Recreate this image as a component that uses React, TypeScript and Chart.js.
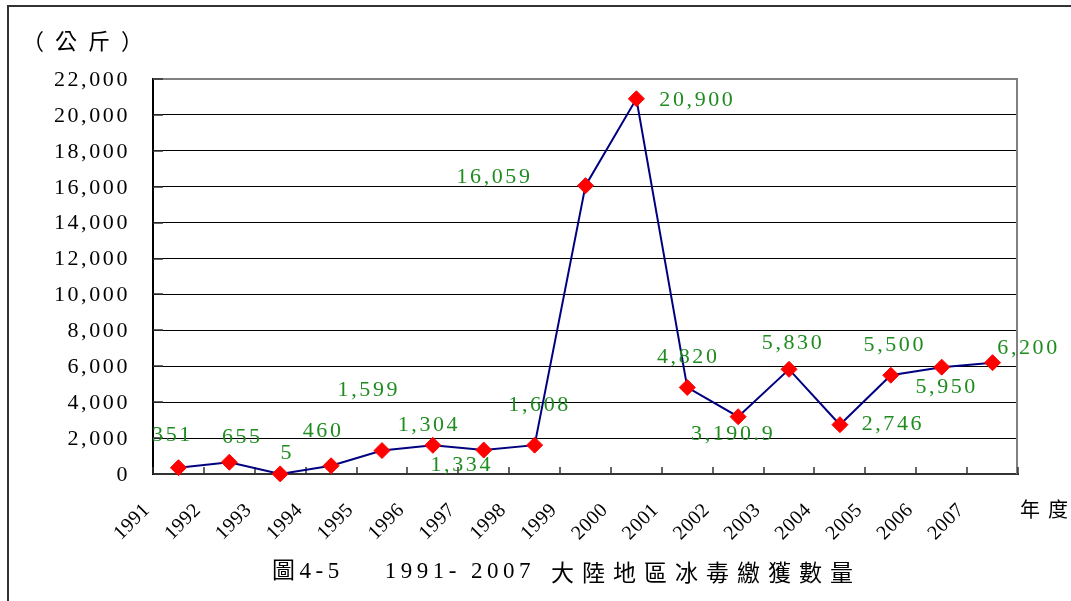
import React, { useEffect, useRef } from "react";
import { Chart, registerables } from "chart.js";

Chart.register(...registerables);

// ---- data ----
const years = [
  "1991", "1992", "1993", "1994", "1995", "1996", "1997", "1998", "1999",
  "2000", "2001", "2002", "2003", "2004", "2005", "2006", "2007",
];
const seizuresKg = [
  351, 655, 5, 460, 1304, 1599, 1334, 1608, 16059,
  20900, 4820, 3190.9, 5830, 2746, 5500, 5950, 6200,
];
const yMin = 0;
const yMax = 22000;
const yStep = 2000;
const yAxisTitle = "（公斤）";
const xAxisTitle = "年度";
const titleLead = "圖4-5    1991- 2007";
const titleMain = "大陸地區冰毒繳獲數量";

// ---- style ----
const W = 1071;
const H = 601;
const SERIF = "'Liberation Serif', 'Noto Sans CJK TC', serif";
const CJK = "'Noto Sans CJK TC', 'Liberation Serif', sans-serif";
const GREEN = "#1f8c1f";
// pixel offsets of each data label centre from its point
const labelOffsets: [number, number][] = [
  [-6, -32], [13, -25], [7, -21], [-8, -35], [47, -25], [-64, -55],
  [-22, 15], [5, -40], [-91, -8], [61, 1], [1, -30], [-5, 18],
  [4, -26], [53, 0], [4, -30], [5, 20], [36, -14],
];

const fmt = (v: number) => v.toLocaleString("en-US", { maximumFractionDigits: 1 });

const overlay = {
  id: "overlay",
  beforeDatasetsDraw(chart: any) {
    const { ctx, chartArea: a, scales } = chart;
    ctx.save();
    // plot area top/right border
    ctx.strokeStyle = "#808080";
    ctx.lineWidth = 2;
    ctx.beginPath();
    ctx.moveTo(a.left, a.top);
    ctx.lineTo(a.right - 1, a.top);
    ctx.lineTo(a.right - 1, a.bottom);
    ctx.stroke();
    // inward x tick marks at category boundaries
    const xs = scales.x;
    const half = (xs.getPixelForValue(1) - xs.getPixelForValue(0)) / 2;
    ctx.strokeStyle = "#333";
    ctx.lineWidth = 1.5;
    ctx.beginPath();
    for (let i = 0; i <= years.length; i++) {
      const x = Math.round(xs.getPixelForValue(i) - half);
      ctx.moveTo(x, a.bottom);
      ctx.lineTo(x, a.bottom - 7);
    }
    ctx.stroke();
    // inward y tick marks
    const ys = scales.y;
    ctx.beginPath();
    for (let v = yMin; v <= yMax; v += yStep) {
      const y = Math.round(ys.getPixelForValue(v));
      ctx.moveTo(a.left, y);
      ctx.lineTo(a.left + 10, y);
    }
    ctx.stroke();
    ctx.restore();
  },
  afterDraw(chart: any) {
    const { ctx, chartArea: a, scales } = chart;
    const xs = scales.x;
    const ys = scales.y;
    const half = (xs.getPixelForValue(1) - xs.getPixelForValue(0)) / 2;
    ctx.save();

    // y tick labels
    ctx.fillStyle = "#000";
    ctx.font = `22px ${SERIF}`;
    ctx.letterSpacing = "2.6px";
    ctx.textAlign = "right";
    ctx.textBaseline = "middle";
    ys.ticks.forEach((t: any) => {
      ctx.fillText(fmt(t.value), a.left - 23, ys.getPixelForValue(t.value) + 1);
    });

    // rotated year labels anchored at category boundaries
    ctx.font = `20px ${SERIF}`;
    ctx.letterSpacing = "0.5px";
    ctx.textAlign = "right";
    ctx.textBaseline = "middle";
    years.forEach((yr, i) => {
      const bx = xs.getPixelForValue(i) - half;
      ctx.save();
      ctx.translate(bx - 6, a.bottom + 33);
      ctx.rotate(-Math.PI / 4);
      ctx.fillText(yr, 0, 0);
      ctx.restore();
    });

    // data labels
    ctx.fillStyle = GREEN;
    ctx.font = `22px ${SERIF}`;
    ctx.letterSpacing = "2.6px";
    ctx.textAlign = "center";
    ctx.textBaseline = "middle";
    seizuresKg.forEach((v, i) => {
      const px = xs.getPixelForValue(i);
      const py = ys.getPixelForValue(v);
      const [dx, dy] = labelOffsets[i];
      ctx.fillText(fmt(v), px + dx, py + dy);
    });

    // axis titles
    ctx.fillStyle = "#000";
    ctx.textAlign = "left";
    ctx.font = `22px ${CJK}`;
    ctx.letterSpacing = "11px";
    ctx.fillText(yAxisTitle, 22, 41);

    ctx.font = `20px ${CJK}`;
    ctx.letterSpacing = "8px";
    ctx.fillText(xAxisTitle, 1020, 509);

    // chart title
    ctx.font = `23px ${SERIF}`;
    ctx.letterSpacing = "4.5px";
    ctx.fillText(titleLead, 272, 572);
    const leadW = ctx.measureText(titleLead).width;
    ctx.font = `23px ${CJK}`;
    ctx.letterSpacing = "8px";
    ctx.fillText(titleMain, 272 + leadW + 16, 572);

    ctx.restore();
  },
};

export default function App() {
  const ref = useRef<HTMLCanvasElement | null>(null);

  useEffect(() => {
    if (!ref.current) return;
    const chart = new Chart(ref.current, {
      type: "line",
      data: {
        labels: years,
        datasets: [
          {
            data: seizuresKg,
            borderColor: "#000080",
            borderWidth: 2,
            tension: 0,
            pointStyle: "rectRot",
            pointRadius: 8,
            pointHoverRadius: 8,
            pointBackgroundColor: "#ff0000",
            pointBorderColor: "#ff0000",
            pointBorderWidth: 1,
            clip: false,
          } as any,
        ],
      },
      options: {
        animation: false,
        responsive: false,
        devicePixelRatio: 1,
        events: [],
        layout: { padding: { left: 0, right: 53, top: 79, bottom: 0 } },
        plugins: {
          legend: { display: false },
          title: { display: false },
          tooltip: { enabled: false },
        },
        scales: {
          x: {
            type: "category",
            offset: true,
            grid: { display: false },
            ticks: { display: false },
            border: { display: true, color: "#333", width: 2 },
            afterFit: (s: any) => {
              s.height = 127;
            },
          },
          y: {
            min: yMin,
            max: yMax,
            ticks: { stepSize: yStep, display: false },
            grid: { color: "#000", lineWidth: 1, drawTicks: false },
            border: { display: true, color: "#000", width: 2 },
            afterFit: (s: any) => {
              s.width = 153;
            },
          },
        },
      },
      plugins: [overlay],
    });
    return () => chart.destroy();
  }, []);

  return (
    <div
      style={{
        position: "fixed",
        left: 0,
        top: 0,
        width: W,
        height: H,
        background: "#fff",
        overflow: "hidden",
      }}
    >
      <div
        style={{
          position: "absolute",
          left: 7,
          top: 5,
          right: -10,
          bottom: -10,
          borderTop: "2px solid #333",
          borderLeft: "2px solid #333",
        }}
      />
      <canvas
        ref={ref}
        width={W}
        height={H}
        style={{ position: "absolute", left: 0, top: 0, width: W, height: H }}
      />
    </div>
  );
}
